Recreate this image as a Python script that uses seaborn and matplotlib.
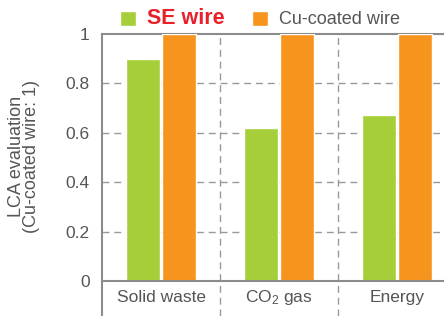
import pandas as pd
import seaborn as sns
import matplotlib.pyplot as plt
from matplotlib.patches import Patch

categories = ['Solid waste', 'CO$_2$ gas', 'Energy']
series_names = ['SE wire', 'Cu-coated wire']
se_wire = [0.90, 0.62, 0.67]
cu_wire = [1.0, 1.0, 1.0]
y_ticks = [0, 0.2, 0.4, 0.6, 0.8, 1]
y_tick_labels = ['0', '0.2', '0.4', '0.6', '0.8', '1']

green = '#a6ce39'
orange = '#f7941d'
text_gray = '#555555'
line_gray = '#8c8c8c'

df = pd.DataFrame({
    'Category': categories * 2,
    'Series': [series_names[0]] * 3 + [series_names[1]] * 3,
    'Value': se_wire + cu_wire,
})

sns.set_style('white')
plt.rcParams['font.family'] = ['Liberation Sans', 'DejaVu Sans']
plt.rcParams['mathtext.default'] = 'regular'

fig = plt.figure(figsize=(4.44, 3.16), dpi=100)
ax = fig.add_axes([102 / 444, 0, 354 / 444, 282 / 316])

sns.barplot(data=df, x='Category', y='Value', hue='Series', order=categories,
            hue_order=series_names, palette=[green, orange], width=0.6,
            gap=0.05, saturation=1, legend=False, ax=ax, zorder=3)

ax.set_xlim(-0.5, 2.5)
ax.set_ylim(-0.142, 1.0)
ax.set_yticks(y_ticks)
ax.set_yticklabels(y_tick_labels)
ax.set_xticks([])
ax.set_xlabel('')
ax.tick_params(axis='y', length=0, pad=9, labelsize=12.5, labelcolor=text_gray)

# dashed grid at 0.2 .. 0.8 and the category separators
for y in y_ticks[1:-1]:
    ax.axhline(y, color='#999999', linestyle=(0, (5, 3.5)), linewidth=1, zorder=1)
for x in [0.5, 1.5]:
    ax.axvline(x, color='#999999', linestyle=(0, (5, 3.5)), linewidth=1, zorder=1)
ax.axhline(0, color=line_gray, linewidth=1.5, zorder=4)

for i, name in enumerate(categories):
    ax.text(i, -0.068, name, ha='center', va='center', fontsize=12.5, color=text_gray)

for side in ['left', 'top']:
    ax.spines[side].set_color(line_gray)
    ax.spines[side].set_linewidth(1.5)
ax.spines['bottom'].set_visible(False)
ax.spines['right'].set_visible(False)

ax.set_ylabel('LCA evaluation\n(Cu-coated wire: 1)', fontsize=13, color=text_gray,
              linespacing=0.82)
ax.yaxis.set_label_coords(-0.175, 0.567)

handles = [Patch(facecolor=green), Patch(facecolor=orange)]
leg = fig.legend(handles, series_names, loc='center', bbox_to_anchor=(0.586, 0.94),
                 ncol=2, frameon=False, fontsize=13, handlelength=0.9, handleheight=0.9,
                 handletextpad=0.6, columnspacing=1.5, borderaxespad=0)
texts = leg.get_texts()
texts[0].set_color('#e8202a')
texts[0].set_fontweight('bold')
texts[0].set_fontsize(15.5)
texts[1].set_color(text_gray)

fig.savefig('out.png', dpi=100)
